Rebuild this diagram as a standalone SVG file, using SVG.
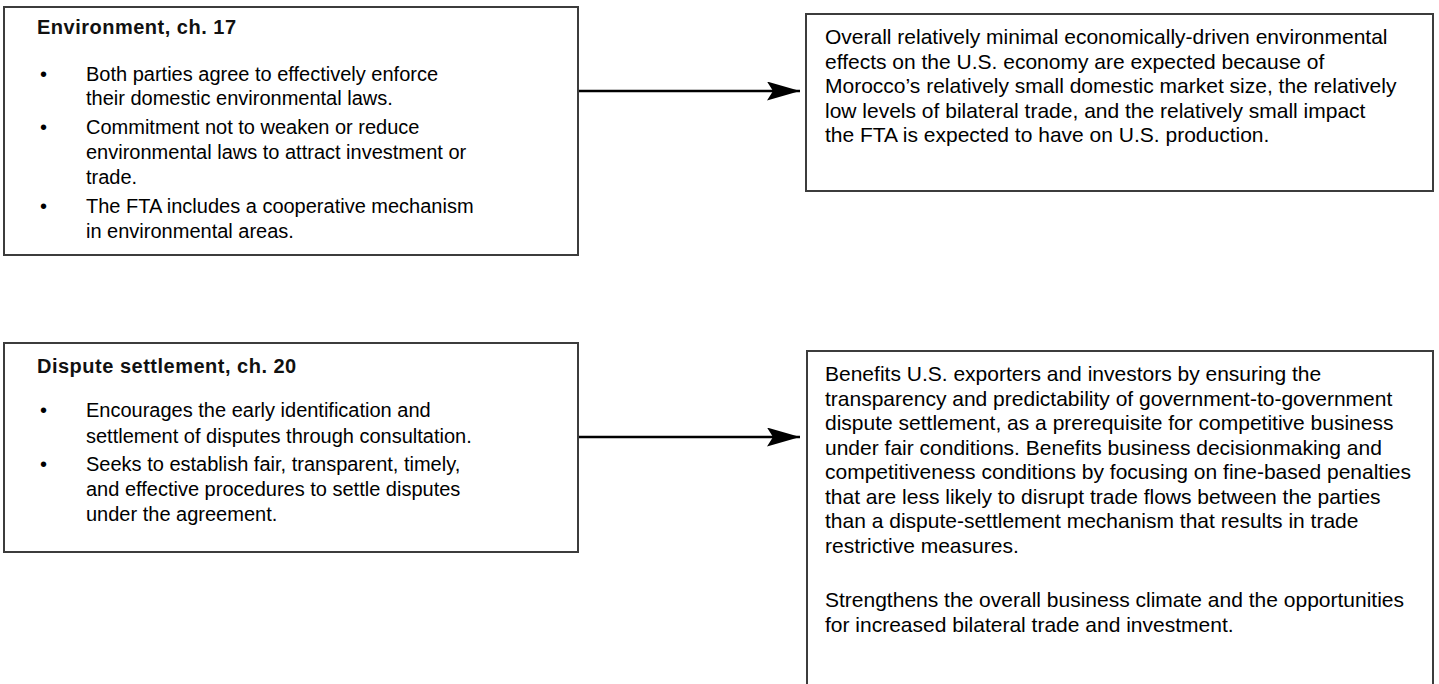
<svg xmlns="http://www.w3.org/2000/svg" width="1439" height="684" viewBox="0 0 1439 684">
<style>
.box{fill:#fff;stroke:#3c3c3c;stroke-width:2}
.h{font-family:"Liberation Sans",Arial,sans-serif;font-weight:bold;font-size:20px;letter-spacing:0.5px;fill:#111}
.t{font-family:"Liberation Sans",Arial,sans-serif;font-size:20px;fill:#000}
.r{font-family:"Liberation Sans",Arial,sans-serif;font-size:21px;fill:#000}
.conn{stroke:#000;stroke-width:2.5;fill:none}
</style>
<defs>
<marker id="ah" markerUnits="userSpaceOnUse" markerWidth="33" markerHeight="19" viewBox="0 0 33 19" refX="33" refY="9.5" orient="auto">
<path d="M0,0 L33,9.5 L0,19 L6,9.5 Z" fill="#000"/>
</marker>
</defs>
<rect width="1439" height="684" fill="#fff"/>
<g id="env">
<rect class="box" x="4" y="7" width="574" height="248"/>
<text class="h" x="37" y="34">Environment, ch. 17</text>
<text class="t" x="40" y="81">•</text>
<text class="t" x="86" y="81">Both parties agree to effectively enforce</text>
<text class="t" x="86" y="105">their domestic environmental laws.</text>
<text class="t" x="40" y="134">•</text>
<text class="t" x="86" y="134">Commitment not to weaken or reduce</text>
<text class="t" x="86" y="159">environmental laws to attract investment or</text>
<text class="t" x="86" y="184">trade.</text>
<text class="t" x="40" y="213">•</text>
<text class="t" x="86" y="213">The FTA includes a cooperative mechanism</text>
<text class="t" x="86" y="238">in environmental areas.</text>
</g>
<g id="env-effect">
<rect class="box" x="806" y="14" width="627" height="177"/>
<text class="r" x="825" y="44">Overall relatively minimal economically-driven environmental</text>
<text class="r" x="825" y="68.5">effects on the U.S. economy are expected because of</text>
<text class="r" x="825" y="93">Morocco’s relatively small domestic market size, the relatively</text>
<text class="r" x="825" y="117.5">low levels of bilateral trade, and the relatively small impact</text>
<text class="r" x="825" y="142">the FTA is expected to have on U.S. production.</text>
</g>
<g id="dispute">
<rect class="box" x="4" y="343" width="574" height="209"/>
<text class="h" x="37" y="373">Dispute settlement, ch. 20</text>
<text class="t" x="40" y="417">•</text>
<text class="t" x="86" y="417">Encourages the early identification and</text>
<text class="t" x="86" y="443">settlement of disputes through consultation.</text>
<text class="t" x="40" y="471">•</text>
<text class="t" x="86" y="471">Seeks to establish fair, transparent, timely,</text>
<text class="t" x="86" y="496">and effective procedures to settle disputes</text>
<text class="t" x="86" y="521">under the agreement.</text>
</g>
<g id="dispute-effect">
<rect class="box" x="807" y="351" width="626" height="360"/>
<text class="r" x="825" y="381">Benefits U.S. exporters and investors by ensuring the</text>
<text class="r" x="825" y="405.5">transparency and predictability of government-to-government</text>
<text class="r" x="825" y="430">dispute settlement, as a prerequisite for competitive business</text>
<text class="r" x="825" y="454.5">under fair conditions. Benefits business decisionmaking and</text>
<text class="r" x="825" y="479">competitiveness conditions by focusing on fine-based penalties</text>
<text class="r" x="825" y="503.5">that are less likely to disrupt trade flows between the parties</text>
<text class="r" x="825" y="528">than a dispute-settlement mechanism that results in trade</text>
<text class="r" x="825" y="552.5">restrictive measures.</text>
<text class="r" x="825" y="607">Strengthens the overall business climate and the opportunities</text>
<text class="r" x="825" y="631.5">for increased bilateral trade and investment.</text>
</g>
<g id="connectors">
<line class="conn" x1="579" y1="91" x2="800" y2="91" marker-end="url(#ah)"/>
<line class="conn" x1="579" y1="437" x2="800" y2="437" marker-end="url(#ah)"/>
</g>
</svg>
